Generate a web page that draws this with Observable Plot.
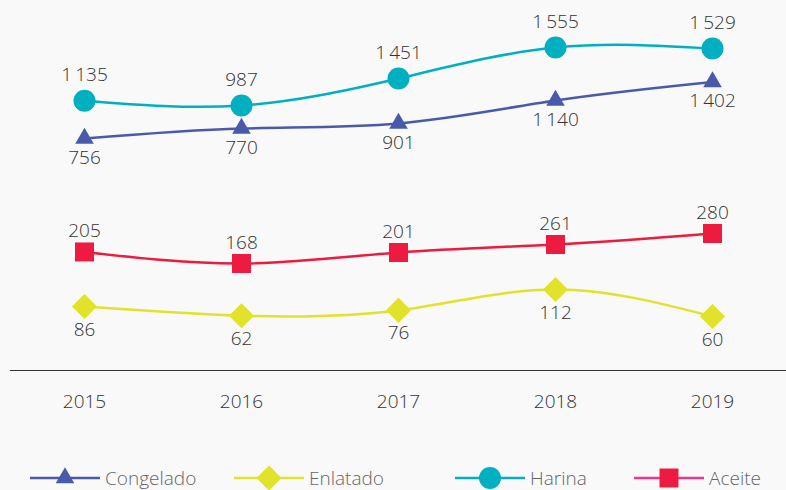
<!DOCTYPE html>
<html><head><meta charset="utf-8">
<script src="https://cdn.jsdelivr.net/npm/d3@7"></script>
<script src="https://cdn.jsdelivr.net/npm/@observablehq/plot@0.6"></script>
<style>
body{margin:0;background:#f9f9f9;font-family:"Open Sans",sans-serif}
#wrap{position:relative;width:786px;height:490px}
#legend{position:absolute;left:0;top:455px}
</style></head>
<body><div id="wrap"><div id="chart"></div><svg id="legend" width="786" height="35"></svg></div>
<script>
const years = ["2015","2016","2017","2018","2019"];
const congelado = [756, 770, 901, 1140, 1402];
const enlatado = [86, 62, 76, 112, 60];
const harina = [1135, 987, 1451, 1555, 1529];
const aceite = [205, 168, 201, 261, 280];

const series = [
  {name:"Congelado", values:congelado, color:"#4a5aab", symbol:"triangle", r:6.9, dy:19, legendX:30},
  {name:"Enlatado", values:enlatado, color:"#e1e22a", symbol:"diamond2", r:11.3, dy:23, legendX:234},
  {name:"Harina", values:harina, color:"#00b0c0", symbol:"circle", r:11, dy:-26, legendX:455},
  {name:"Aceite", values:aceite, color:"#ec1b3f", legendLine:"#f0358c", symbol:"square", r:10.7, dy:-21, legendX:634}
];
const rows = series.flatMap(s => years.map((year, i) => ({series:s.name, year, value:s.values[i]})));
const fmt = d3.formatLocale({thousands:"\u2009", grouping:[3], decimal:","}).format(",d");

const marks = [
  Plot.frame({anchor:"bottom", stroke:"#333", strokeWidth:1.2}),
  Plot.axisX({tickSize:0, tickPadding:24, fontSize:19, fontWeight:300, label:null, fill:"#333"})
];
for (const s of series) {
  const data = rows.filter(d => d.series === s.name);
  marks.push(Plot.line(data, {x:"year", y:"value", stroke:s.color, strokeWidth:2.5, curve:"natural"}));
}
for (const s of series) {
  const data = rows.filter(d => d.series === s.name);
  marks.push(Plot.dot(data, {x:"year", y:"value", symbol:s.symbol, r:s.r, fill:s.color, stroke:"none"}));
  marks.push(Plot.text(data, {x:"year", y:"value", text:d => fmt(d.value), dy:s.dy, fontSize:19, fontWeight:300, fill:"#333"}));
}

const chart = Plot.plot({
  width:786, height:490,
  marginLeft:10, marginRight:0, marginTop:0, marginBottom:120,
  style:{fontFamily:"Open Sans", fontSize:"19px", background:"#f9f9f9", color:"#333"},
  x:{type:"point", domain:years, range:[83, 712], padding:0, axis:null},
  y:{type:"linear",
     domain:[60, 86, 112, 168, 201, 261, 280, 756, 770, 901, 987, 1140, 1451, 1529, 1555],
     range:[316, 306, 289, 263, 252, 244, 233, 138, 128, 123, 105, 100, 78, 48, 47],
     axis:null},
  marks
});
document.getElementById("chart").append(chart);

// legend
const lg = d3.select("#legend");
const symMap = {triangle:d3.symbolTriangle, diamond2:d3.symbolDiamond2, circle:d3.symbolCircle, square:d3.symbolSquare};
const ly = 23;
for (const s of series) {
  const g = lg.append("g").attr("transform", `translate(${s.legendX},${ly})`);
  g.append("line").attr("x1",0).attr("x2",70).attr("y1",0).attr("y2",0)
    .attr("stroke", s.legendLine || s.color).attr("stroke-width",2.5);
  g.append("path").attr("transform","translate(35,0)")
    .attr("d", d3.symbol(symMap[s.symbol], s.r*s.r*Math.PI)()).attr("fill", s.color);
  g.append("text").attr("x",75).attr("y",0).attr("dy","0.35em")
    .attr("font-size",19).attr("font-weight",300).attr("fill","#666").attr("font-family","Open Sans").text(s.name);
}
</script></body></html>
